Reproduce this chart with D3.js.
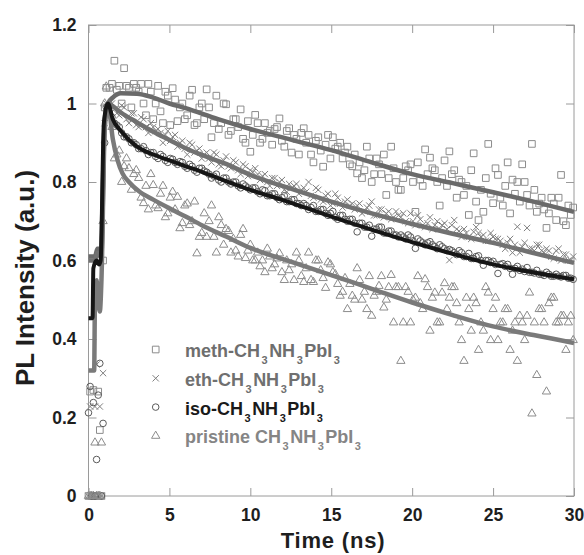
<!DOCTYPE html>
<html>
<head>
<meta charset="utf-8">
<script src="https://cdn.jsdelivr.net/npm/d3@7"></script>
<style>
body { margin: 0; background: #fff; }
text { font-family: "Liberation Sans", Arial, sans-serif; font-weight: bold; }
</style>
</head>
<body>
<div id="chart"></div>
<script>
// time axis of the measured points (ns)
var times = [0, 0.1, 0.2, 0.3, 0.4, 0.5, 0.6, 0.7, 0.8, 0.9, 1.0, 1.1,
	1.3, 1.6, 1.9, 2.2, 2.5, 2.8, 3.1, 3.4, 3.7, 4.0,
	4.3, 4.6, 4.9, 5.2, 5.5, 5.8, 6.1, 6.4, 6.7, 7.0,
	7.3, 7.6, 7.9, 8.2, 8.5, 8.8, 9.1, 9.4, 9.7, 10.0,
	10.3, 10.6, 10.9, 11.2, 11.5, 11.8, 12.1, 12.4, 12.7, 13.0,
	13.3, 13.6, 13.9, 14.2, 14.5, 14.8, 15.1, 15.4, 15.7, 16.0,
	16.3, 16.6, 16.9, 17.2, 17.5, 17.8, 18.1, 18.4, 18.7, 19.0,
	19.3, 19.6, 19.9, 20.2, 20.5, 20.8, 21.1, 21.4, 21.7, 22.0,
	22.3, 22.6, 22.9, 23.2, 23.5, 23.8, 24.1, 24.4, 24.7, 25.0,
	25.3, 25.6, 25.9, 26.2, 26.5, 26.8, 27.1, 27.4, 27.7, 28.0,
	28.3, 28.6, 28.9, 29.2, 29.5, 29.8];
var timesB = [1.45, 1.75, 2.05, 2.35, 2.65, 2.95, 3.25, 3.55, 3.85, 4.15,
	4.45, 4.75, 5.05, 5.35, 5.65, 5.95, 6.25, 6.55, 6.85, 7.15,
	7.45, 7.75, 8.05, 8.35, 8.65, 8.95, 9.25, 9.55, 9.85, 10.15,
	10.45, 10.75, 11.05, 11.35, 11.65, 11.95, 12.25, 12.55, 12.85, 13.15,
	13.45, 13.75, 14.05, 14.35, 14.65, 14.95, 15.25, 15.55, 15.85, 16.15,
	16.45, 16.75, 17.05, 17.35, 17.65, 17.95, 18.25, 18.55, 18.85, 19.15,
	19.45, 19.75, 20.05, 20.35, 20.65, 20.95, 21.25, 21.55, 21.85, 22.15,
	22.45, 22.75, 23.05, 23.35, 23.65, 23.95, 24.25, 24.55, 24.85, 25.15,
	25.45, 25.75, 26.05, 26.35, 26.65, 26.95, 27.25, 27.55, 27.85, 28.15,
	28.45, 28.75, 29.05, 29.35, 29.65, 29.95];

// measured PL (squares, crosses, circles, triangles)
var methVals = [0, 0.266, 0, 0.27, 0, 0, 0.266, 0.168, 0, 0.6, 0.99, 1.04,
	1.04, 1.109, 1.045, 1.09, 1.04, 1.05, 1.03, 1.0, 1.05, 0.96,
	1.045, 0.95, 1.02, 1.039, 0.955, 1.0, 0.97, 1.035, 0.95, 1.0,
	1.036, 0.914, 1.02, 0.95, 0.998, 0.93, 0.96, 0.985, 0.9, 0.877,
	0.971, 0.9, 0.95, 0.93, 0.935, 0.962, 0.89, 0.937, 0.92, 0.87,
	0.937, 0.92, 0.85, 0.914, 0.839, 0.92, 0.914, 0.89, 0.86, 0.89,
	0.84, 0.822, 0.81, 0.89, 0.8, 0.86, 0.82, 0.767, 0.89, 0.80,
	0.78, 0.84, 0.845, 0.724, 0.806, 0.883, 0.862, 0.83, 0.74, 0.855,
	0.878, 0.83, 0.806, 0.767, 0.716, 0.873, 0.703, 0.724, 0.897, 0.746,
	0.818, 0.74, 0.85, 0.806, 0.8, 0.845, 0.767, 0.897, 0.724, 0.76,
	0.683, 0.76, 0.703, 0.818, 0.69, 0.716];
var methValsB = [1.05, 1.035, 1.0, 1.045, 0.99, 1.04, 1.05, 0.97, 1.03, 1.0,
	0.98, 1.03, 0.945, 1.01, 0.99, 0.96, 1.02, 0.945, 0.99, 0.96,
	0.99, 0.95, 0.935, 1.0, 0.92, 0.96, 0.94, 0.91, 0.955, 0.92,
	0.95, 0.91, 0.925, 0.895, 0.94, 0.905, 0.93, 0.875, 0.91, 0.925,
	0.9, 0.87, 0.905, 0.88, 0.895, 0.86, 0.885, 0.9, 0.875, 0.845,
	0.87, 0.85, 0.83, 0.86, 0.82, 0.845, 0.87, 0.81, 0.835, 0.78,
	0.81, 0.83, 0.8, 0.85, 0.79, 0.82, 0.835, 0.8, 0.81, 0.79,
	0.82, 0.76, 0.8, 0.79, 0.83, 0.75, 0.78, 0.81, 0.77, 0.835,
	0.76, 0.79, 0.72, 0.77, 0.75, 0.8, 0.74, 0.78, 0.745, 0.73,
	0.72, 0.745, 0.76, 0.7, 0.74, 0.735];
var ethVals = [0, 0.228, 0, 0, 0.228, 0.335, 0, 0.228, 0, 0.313, 0.95, 1.0,
	0.99, 0.985, 0.97, 0.99, 0.95, 0.975, 0.94, 0.96, 0.925, 0.94,
	0.935, 0.9, 0.93, 0.915, 0.89, 0.905, 0.87, 0.895, 0.88, 0.86,
	0.875, 0.85, 0.87, 0.84, 0.865, 0.835, 0.85, 0.82, 0.84, 0.83,
	0.835, 0.805, 0.82, 0.79, 0.81, 0.8, 0.78, 0.795, 0.79, 0.77,
	0.785, 0.8, 0.76, 0.78, 0.75, 0.77, 0.745, 0.76, 0.735, 0.755,
	0.745, 0.74, 0.72, 0.735, 0.75, 0.715, 0.73, 0.72, 0.705, 0.725,
	0.71, 0.7, 0.72, 0.69, 0.705, 0.685, 0.71, 0.69, 0.68, 0.695,
	0.601, 0.703, 0.675, 0.68, 0.66, 0.673, 0.67, 0.665, 0.65, 0.66,
	0.655, 0.64, 0.645, 0.62, 0.686, 0.635, 0.683, 0.63, 0.64, 0.625,
	0.63, 0.61, 0.625, 0.6, 0.615, 0.6];
var ethValsB = [1.0, 0.975, 0.995, 0.96, 0.975, 0.945, 0.965, 0.94, 0.95, 0.93,
	0.925, 0.92, 0.905, 0.92, 0.9, 0.885, 0.9, 0.875, 0.885, 0.87,
	0.86, 0.875, 0.845, 0.855, 0.84, 0.855, 0.83, 0.845, 0.815, 0.825,
	0.82, 0.815, 0.8, 0.81, 0.79, 0.805, 0.775, 0.785, 0.795, 0.78,
	0.775, 0.765, 0.785, 0.755, 0.765, 0.74, 0.77, 0.745, 0.75, 0.74,
	0.73, 0.745, 0.725, 0.74, 0.715, 0.73, 0.71, 0.725, 0.71, 0.715,
	0.72, 0.695, 0.7, 0.715, 0.69, 0.695, 0.68, 0.7, 0.69, 0.68,
	0.69, 0.68, 0.66, 0.67, 0.655, 0.685, 0.66, 0.65, 0.67, 0.655,
	0.65, 0.63, 0.655, 0.64, 0.62, 0.645, 0.63, 0.625, 0.64, 0.62,
	0.625, 0.605, 0.63, 0.615, 0.6, 0.61];
var isoVals = [0.212, 0.279, 0, 0.238, 0, 0.093, 0.257, 0.338, 0, 0.185, 0.9, 0.99,
	0.975, 0.95, 0.94, 0.915, 0.91, 0.9, 0.885, 0.89, 0.87, 0.875,
	0.86, 0.865, 0.85, 0.858, 0.845, 0.85, 0.835, 0.84, 0.825, 0.835,
	0.825, 0.81, 0.82, 0.8, 0.81, 0.795, 0.8, 0.785, 0.79, 0.78,
	0.785, 0.77, 0.778, 0.765, 0.77, 0.755, 0.765, 0.75, 0.755, 0.745,
	0.745, 0.73, 0.74, 0.725, 0.73, 0.715, 0.725, 0.705, 0.715, 0.7,
	0.705, 0.673, 0.695, 0.685, 0.662, 0.68, 0.685, 0.67, 0.675, 0.665,
	0.665, 0.655, 0.66, 0.631, 0.65, 0.64, 0.648, 0.635, 0.64, 0.63,
	0.628, 0.62, 0.625, 0.61, 0.618, 0.605, 0.612, 0.588, 0.6, 0.598,
	0.567, 0.592, 0.59, 0.565, 0.585, 0.578, 0.582, 0.57, 0.575, 0.565,
	0.57, 0.56, 0.565, 0.558, 0.562, 0.555];
var isoValsB = [0.965, 0.945, 0.925, 0.915, 0.9, 0.895, 0.885, 0.88, 0.875, 0.865,
	0.87, 0.855, 0.86, 0.85, 0.852, 0.84, 0.845, 0.83, 0.835, 0.828,
	0.82, 0.815, 0.805, 0.81, 0.8, 0.8, 0.79, 0.795, 0.785, 0.785,
	0.775, 0.78, 0.765, 0.77, 0.76, 0.76, 0.75, 0.755, 0.745, 0.74,
	0.74, 0.735, 0.725, 0.73, 0.72, 0.72, 0.71, 0.715, 0.705, 0.705,
	0.695, 0.695, 0.685, 0.69, 0.68, 0.685, 0.67, 0.675, 0.665, 0.66,
	0.66, 0.665, 0.65, 0.655, 0.645, 0.645, 0.64, 0.63, 0.635, 0.625,
	0.625, 0.615, 0.62, 0.61, 0.605, 0.61, 0.6, 0.6, 0.595, 0.59,
	0.59, 0.585, 0.58, 0.58, 0.575, 0.572, 0.57, 0.568, 0.565, 0.562,
	0.565, 0.56, 0.56, 0.562, 0.555, 0.552];
var pristineVals = [0, 0, 0, 0, 0.136, 0, 0, 0, 0.136, 0.7, 1.0, 1.043,
	1.0, 0.86, 0.88, 0.84, 0.835, 0.82, 0.81, 0.746, 0.73, 0.792,
	0.733, 0.79, 0.72, 0.775, 0.762, 0.695, 0.745, 0.7, 0.618, 0.67,
	0.66, 0.74, 0.62, 0.69, 0.68, 0.62, 0.625, 0.665, 0.606, 0.64,
	0.6, 0.585, 0.57, 0.61, 0.59, 0.618, 0.55, 0.575, 0.55, 0.6,
	0.545, 0.62, 0.545, 0.6, 0.555, 0.595, 0.57, 0.54, 0.52, 0.476,
	0.51, 0.58, 0.5, 0.476, 0.459, 0.52, 0.56, 0.5, 0.563, 0.532,
	0.344, 0.532, 0.442, 0.505, 0.491, 0.552, 0.421, 0.518, 0.442, 0.542,
	0.505, 0.532, 0.442, 0.344, 0.476, 0.505, 0.372, 0.421, 0.518, 0.476,
	0.397, 0.442, 0.476, 0.421, 0.344, 0.442, 0.459, 0.21, 0.308, 0.476,
	0.266, 0.505, 0.442, 0.459, 0.372, 0.459];
var pristineValsB = [0.94, 0.87, 0.8, 0.86, 0.78, 0.83, 0.76, 0.79, 0.82, 0.74,
	0.77, 0.71, 0.76, 0.73, 0.682, 0.74, 0.69, 0.75, 0.66, 0.72,
	0.7, 0.66, 0.71, 0.64, 0.675, 0.655, 0.61, 0.68, 0.625, 0.6,
	0.62, 0.6, 0.63, 0.58, 0.605, 0.57, 0.6, 0.59, 0.62, 0.56,
	0.58, 0.55, 0.6, 0.575, 0.53, 0.59, 0.565, 0.51, 0.555, 0.54,
	0.5, 0.55, 0.52, 0.56, 0.51, 0.535, 0.48, 0.532, 0.442, 0.532,
	0.442, 0.52, 0.5, 0.56, 0.476, 0.532, 0.505, 0.442, 0.518, 0.476,
	0.532, 0.491, 0.397, 0.505, 0.421, 0.491, 0.442, 0.532, 0.397, 0.505,
	0.442, 0.476, 0.372, 0.442, 0.459, 0.397, 0.518, 0.442, 0.476, 0.442,
	0.491, 0.505, 0.442, 0.459, 0.442, 0.397];

// fitted curves [time, PL]
var methFit = [[0, 0.61], [0.4, 0.61], [0.55, 0.63], [0.7, 0.63], [0.8, 0.62], [1.0, 0.96], [1.2, 1.0],
	[1.5, 1.015], [2, 1.026], [3, 1.025], [4, 1.015], [5, 1.0], [6, 0.988], [8, 0.96], [10, 0.935],
	[12.5, 0.908], [15, 0.881], [17.5, 0.85], [20, 0.82], [22.5, 0.797], [25, 0.774], [27.5, 0.75], [30, 0.724]];
var ethFit = [[0, 0.6], [0.4, 0.6], [0.55, 0.62], [0.75, 0.61], [1.0, 0.95], [1.2, 1.0], [1.6, 0.99],
	[2, 0.977], [3, 0.952], [4, 0.928], [5, 0.907], [6, 0.886], [7, 0.869], [8.5, 0.846], [10, 0.818],
	[12.5, 0.783], [15, 0.75], [17.5, 0.72], [20, 0.693], [22.5, 0.668], [25, 0.645], [27.5, 0.619], [30, 0.594]];
var isoFit = [[0, 0.453], [0.25, 0.453], [0.3, 0.58], [0.5, 0.6], [0.65, 0.59], [0.75, 0.6], [0.95, 0.95],
	[1.2, 1.0], [1.5, 0.96], [2, 0.93], [3, 0.89], [4, 0.87], [5, 0.855], [6, 0.84], [7, 0.826], [8, 0.81],
	[10, 0.78], [12, 0.754], [15, 0.712], [20, 0.647], [25, 0.59], [30, 0.552]];
var pristineFit = [[0, 0.32], [0.35, 0.32], [0.4, 0.5], [0.5, 0.55], [0.6, 0.5], [0.7, 0.47], [0.8, 0.55],
	[1.0, 0.93], [1.2, 1.0], [1.5, 0.91], [1.8, 0.855], [2.1, 0.822], [2.5, 0.8], [3.1, 0.777], [4, 0.755],
	[5, 0.733], [6, 0.712], [7, 0.69], [8.5, 0.661], [10, 0.632], [12.5, 0.597], [15, 0.563], [17.5, 0.528],
	[20, 0.493], [22.5, 0.461], [25, 0.432], [27.5, 0.41], [30, 0.39]];

var xTicks = [0, 5, 10, 15, 20, 25, 30];
var yTicks = [0, 0.2, 0.4, 0.6, 0.8, 1, 1.2];
var legendPrefix = ["meth-", "eth-", "iso-", "pristine "];

// svg
var svg = d3.select("#chart").append("svg")
	.attr("width", 584)
	.attr("height", 555);

var x = d3.scaleLinear().domain([0, 30]).range([88.5, 574]);
var y = d3.scaleLinear().domain([0, 1.2]).range([496, 25]);

// ticks on all four sides, pointing inwards
var fmt = function(d){ return d3.format("~g")(d); };
var axes = [
	{ call: d3.axisBottom(x).tickValues(xTicks).tickSize(-8).tickPadding(13).tickFormat(fmt), tr: "translate(0,496)" },
	{ call: d3.axisTop(x).tickValues(xTicks).tickSize(-8).tickFormat(""), tr: "translate(0,25)" },
	{ call: d3.axisLeft(y).tickValues(yTicks).tickSize(-8).tickPadding(12).tickFormat(fmt), tr: "translate(88.5,0)" },
	{ call: d3.axisRight(y).tickValues(yTicks).tickSize(-8).tickFormat(""), tr: "translate(574,0)" }
];
axes.forEach(function(a){
	var g = svg.append("g").attr("transform", a.tr).call(a.call);
	g.select(".domain").remove();
	g.selectAll("line").attr("stroke", "#9a9a9a");
	g.selectAll("text")
		.attr("font-size", "17.5px")
		.attr("fill", "#1e1e1e")
		.style("font-family", "'Liberation Sans', Arial, sans-serif")
		.style("font-weight", "bold");
});

svg.append("rect")
	.attr("x", 88.5).attr("y", 25)
	.attr("width", 574 - 88.5).attr("height", 496 - 25)
	.attr("fill", "none")
	.attr("stroke", "#9a9a9a")
	.attr("stroke-width", 1);

// marker shapes
var crossType = { draw: function(ctx, size){
	var r = Math.sqrt(size) / 2;
	ctx.moveTo(-r, -r); ctx.lineTo(r, r);
	ctx.moveTo(r, -r); ctx.lineTo(-r, r);
}};

var series = [
	{ vals: methVals, valsB: methValsB, fit: methFit, sym: d3.symbolSquare, size: 44, mcol: "#8c8c8c", lcol: "#6a6a6a", lw: 4.5, tcol: "#6e6e6e" },
	{ vals: ethVals, valsB: ethValsB, fit: ethFit, sym: crossType, size: 40, mcol: "#808080", lcol: "#717171", lw: 4.5, tcol: "#707070" },
	{ vals: isoVals, valsB: isoValsB, fit: isoFit, sym: d3.symbolCircle, size: 34, mcol: "#5a5a5a", lcol: "#161616", lw: 4, tcol: "#1a1a1a" },
	{ vals: pristineVals, valsB: pristineValsB, fit: pristineFit, sym: d3.symbolTriangle, size: 30, mcol: "#8c8c8c", lcol: "#7a7a7a", lw: 4.5, tcol: "#858585" }
];

// scatter points
series.forEach(function(s){
	var pts = times.map(function(t, i){ return [t, s.vals[i]]; })
		.concat(timesB.map(function(t, i){ return [t, s.valsB[i]]; }));
	svg.append("g").selectAll("path")
		.data(pts)
		.enter().append("path")
		.attr("transform", function(d){ return "translate(" + x(d[0]) + "," + y(d[1]) + ")"; })
		.attr("d", d3.symbol().type(s.sym).size(s.size))
		.attr("fill", "none")
		.attr("stroke", s.mcol)
		.attr("stroke-width", 1);
});

// fit lines
var line = d3.line()
	.x(function(d){ return x(d[0]); })
	.y(function(d){ return y(d[1]); })
	.curve(d3.curveMonotoneX);

[0, 1, 3, 2].forEach(function(k){
	var s = series[k];
	svg.append("path")
		.datum(s.fit)
		.attr("d", line)
		.attr("fill", "none")
		.attr("stroke", s.lcol)
		.attr("stroke-width", s.lw)
		.attr("stroke-linejoin", "round");
});

// legend
var legend = svg.append("g");
series.forEach(function(s, i){
	var ly = 349.5 + i * 28.8;
	legend.append("path")
		.attr("transform", "translate(155.7," + ly + ")")
		.attr("d", d3.symbol().type(s.sym).size(s.size))
		.attr("fill", "none")
		.attr("stroke", s.mcol);
	var t = legend.append("text")
		.attr("x", 185)
		.attr("y", ly + 7.5)
		.attr("font-size", "18px")
		.attr("fill", s.tcol);
	t.append("tspan").text(legendPrefix[i] + "CH");
	t.append("tspan").attr("dx", 1.5).attr("dy", 7).attr("font-size", "11px").text("3");
	t.append("tspan").attr("dx", 1.5).attr("dy", -7).text("NH");
	t.append("tspan").attr("dx", 1.5).attr("dy", 7).attr("font-size", "11px").text("3");
	t.append("tspan").attr("dx", 1.5).attr("dy", -7).text("PbI");
	t.append("tspan").attr("dx", 1.5).attr("dy", 7).attr("font-size", "11px").text("3");
});

// axis titles
svg.append("text")
	.attr("x", 333)
	.attr("y", 548)
	.attr("text-anchor", "middle")
	.attr("font-size", "22px")
	.attr("letter-spacing", "0.8px")
	.attr("fill", "#1e1e1e")
	.text("Time (ns)");

svg.append("text")
	.attr("transform", "translate(34,278) rotate(-90)")
	.attr("text-anchor", "middle")
	.attr("font-size", "26px")
	.attr("fill", "#1e1e1e")
	.text("PL Intensity (a.u.)");
</script>
</body>
</html>
